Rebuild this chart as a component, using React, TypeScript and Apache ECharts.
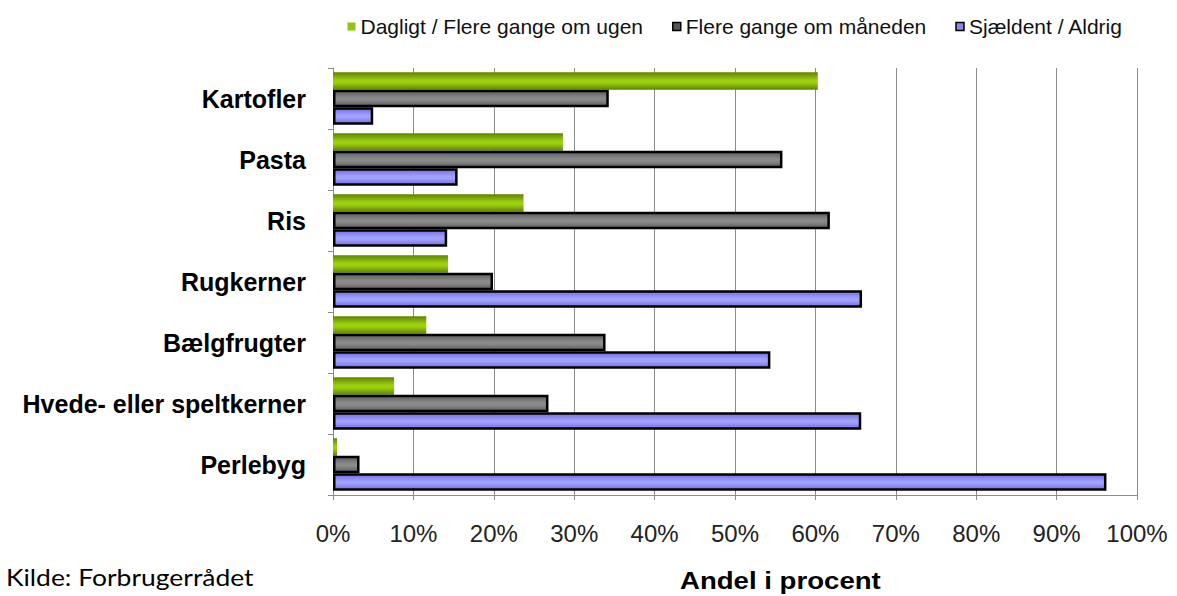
import React, { useEffect, useRef } from "react";
import * as echarts from "echarts";

const categories = [
  "Kartofler",
  "Pasta",
  "Ris",
  "Rugkerner",
  "Bælgfrugter",
  "Hvede- eller speltkerner",
  "Perlebyg",
];
const seriesNames = ["Dagligt / Flere gange om ugen", "Flere gange om måneden", "Sjældent / Aldrig"];
const daily = [60.3, 28.6, 23.7, 14.3, 11.6, 7.6, 0.5];
const monthly = [34.3, 55.9, 61.8, 19.9, 33.9, 26.8, 3.3];
const rarely = [5.0, 15.5, 14.2, 65.8, 54.4, 65.7, 96.2];
const axisTitle = "Andel i procent";
const sourceText = "Kilde: Forbrugerrådet";

const vgrad = (edge: string, mid: string) =>
  new echarts.graphic.LinearGradient(0, 0, 0, 1, [
    { offset: 0, color: edge },
    { offset: 0.45, color: mid },
    { offset: 0.6, color: mid },
    { offset: 1, color: edge },
  ]);

export default function App() {
  const ref = useRef<HTMLDivElement>(null);
  useEffect(() => {
    if (!ref.current) return;
    const chart = echarts.init(ref.current, null, { renderer: "svg" });
    const font = "Arial, 'Liberation Sans', sans-serif";
    const barW = 17.5;
    chart.setOption({
      animation: false,
      backgroundColor: "#ffffff",
      legend: {
        left: 342,
        top: 11,
        itemWidth: 8,
        itemHeight: 8,
        itemGap: 29,
        icon: "rect",
        textStyle: { fontFamily: font, fontSize: 21, color: "#111" },
        data: [
          { name: seriesNames[0], itemStyle: { color: "#8fc21a", borderColor: "#c8e86a", borderWidth: 1 } },
          { name: seriesNames[1], itemStyle: { color: "#555555", borderColor: "#000", borderWidth: 1.5 } },
          { name: seriesNames[2], itemStyle: { color: "#8888ee", borderColor: "#000", borderWidth: 1.5 } },
        ],
      },
      grid: { left: 333, right: 40, top: 68, bottom: 101, containLabel: false },
      xAxis: {
        type: "value",
        min: 0,
        max: 100,
        interval: 10,
        axisLine: { show: true, lineStyle: { color: "#8c8c8c", width: 1 } },
        axisTick: { show: true, length: 5, lineStyle: { color: "#8c8c8c" } },
        splitLine: { show: true, lineStyle: { color: "#8c8c8c", width: 1 } },
        axisLabel: {
          formatter: "{value}%",
          fontFamily: font,
          fontSize: 24,
          color: "#222",
          margin: 26,
        },
      },
      yAxis: {
        type: "category",
        data: categories,
        inverse: true,
        axisLine: { show: true, lineStyle: { color: "#8c8c8c", width: 1 } },
        axisTick: { show: true, length: 5, lineStyle: { color: "#8c8c8c" } },
        axisLabel: {
          fontFamily: font,
          fontSize: 25,
          fontWeight: "bold",
          color: "#000",
          margin: 27,
        },
      },
      series: [
        {
          name: seriesNames[0],
          type: "bar",
          data: daily,
          barWidth: barW,
          barGap: "0%",
          itemStyle: { color: vgrad("#5f8200", "#9ccf10") },
        },
        {
          name: seriesNames[1],
          type: "bar",
          data: monthly,
          barWidth: barW,
          barGap: "0%",
          itemStyle: { color: vgrad("#5e5e5e", "#8a8a8a"), borderColor: "#000", borderWidth: 2.5 },
        },
        {
          name: seriesNames[2],
          type: "bar",
          data: rarely,
          barWidth: barW,
          barGap: "0%",
          itemStyle: { color: vgrad("#7070dd", "#a0a0ff"), borderColor: "#000", borderWidth: 2.5 },
        },
      ],
      graphic: [
        {
          type: "text",
          x: 680,
          y: 569,
          scaleX: 1.2,
          style: {
            text: axisTitle,
            font: "bold 23px Arial, 'Liberation Sans', sans-serif",
            fill: "#000",
            textAlign: "left",
            textVerticalAlign: "top",
          },
        },
        {
          type: "text",
          x: 6,
          y: 566,
          scaleX: 1.15,
          style: {
            text: sourceText,
            font: "23px Lato, 'Open Sans', sans-serif",
            fill: "#000",
            textAlign: "left",
            textVerticalAlign: "top",
          },
        },
      ],
    });
    return () => chart.dispose();
  }, []);
  return (
    <div
      ref={ref}
      style={{ position: "absolute", left: 0, top: 0, width: 1177, height: 596 }}
    />
  );
}
